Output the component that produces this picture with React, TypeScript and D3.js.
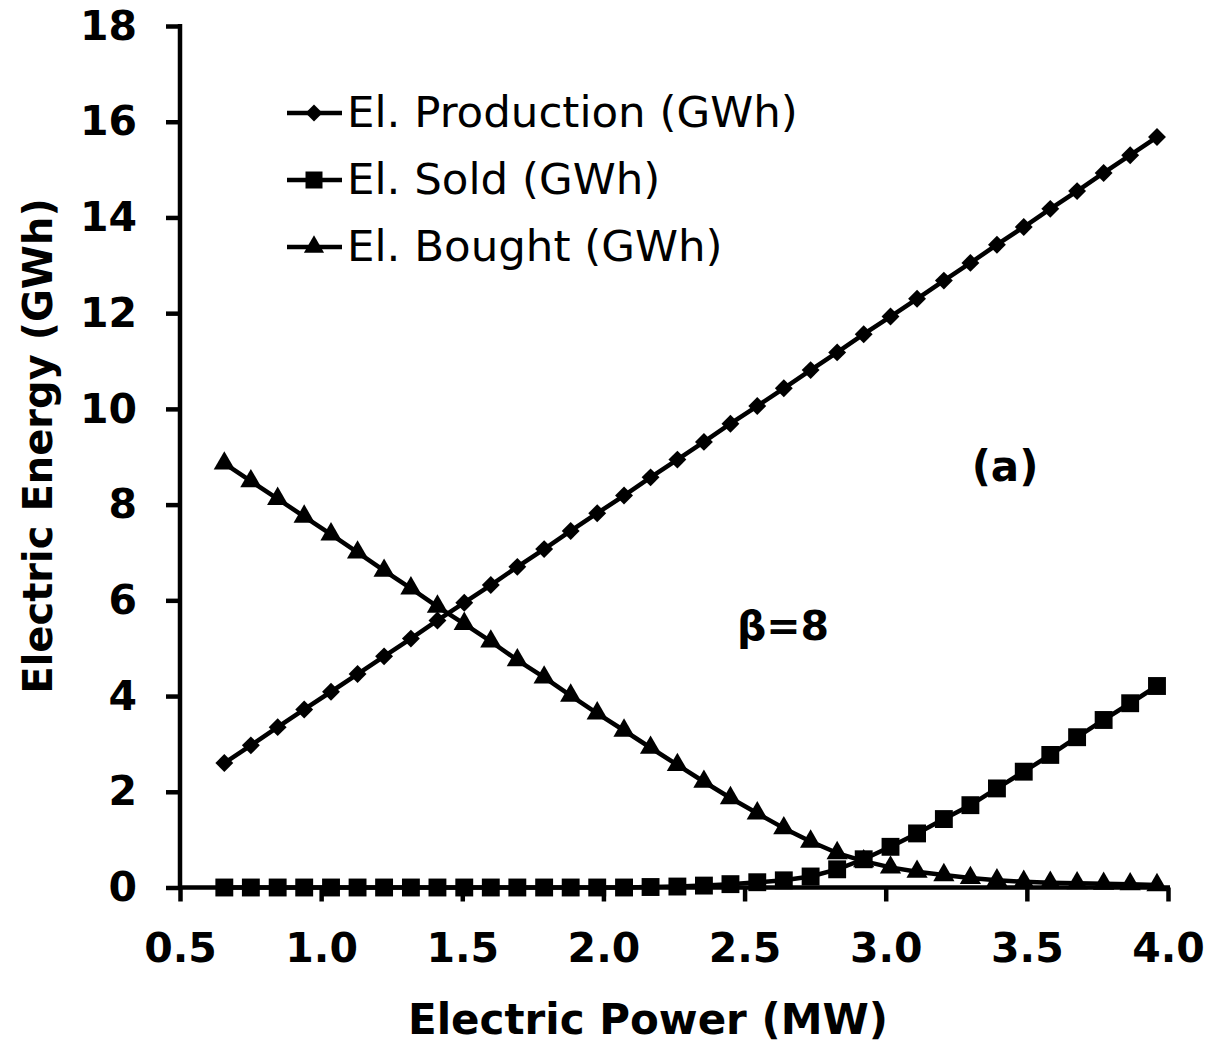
import { useEffect, useRef } from "react";
import * as d3 from "d3";

// electric power (MW) of each simulated unit
const power = [
  0.657, 0.751, 0.846, 0.94, 1.035, 1.129, 1.223, 1.318, 1.412, 1.507, 1.601, 1.695,
  1.79, 1.884, 1.978, 2.073, 2.167, 2.262, 2.356, 2.45, 2.545, 2.639, 2.734, 2.828,
  2.922, 3.017, 3.111, 3.206, 3.3, 3.394, 3.489, 3.583, 3.678, 3.772, 3.866, 3.961,
];

const production = [
  2.6, 2.97, 3.35, 3.72, 4.09, 4.46, 4.83, 5.2, 5.58, 5.95, 6.32, 6.7,
  7.07, 7.45, 7.82, 8.19, 8.57, 8.94, 9.31, 9.69, 10.06, 10.43, 10.81, 11.18,
  11.56, 11.93, 12.3, 12.68, 13.05, 13.43, 13.8, 14.18, 14.55, 14.93, 15.3, 15.68,
];

const sold = [
  0, 0, 0, 0, 0, 0, 0, 0, 0, 0, 0, 0,
  0, 0, 0, 0, 0.01, 0.02, 0.04, 0.07, 0.11, 0.15, 0.23, 0.38,
  0.59, 0.85, 1.13, 1.43, 1.72, 2.07, 2.42, 2.77, 3.14, 3.5, 3.85, 4.21,
];

const bought = [
  8.86, 8.49, 8.12, 7.75, 7.38, 7.0, 6.62, 6.25, 5.87, 5.51, 5.14, 4.75,
  4.39, 4.01, 3.64, 3.28, 2.92, 2.56, 2.21, 1.87, 1.55, 1.24, 0.96, 0.72,
  0.55, 0.42, 0.33, 0.26, 0.2, 0.15, 0.12, 0.1, 0.09, 0.08, 0.07, 0.05,
];

const xTicks = [0.5, 1.0, 1.5, 2.0, 2.5, 3.0, 3.5, 4.0];
const yTicks = [0, 2, 4, 6, 8, 10, 12, 14, 16, 18];

const seriesNames = ["El. Production (GWh)", "El. Sold (GWh)", "El. Bought (GWh)"];

const FONT = "'DejaVu Sans', Verdana, sans-serif";

const x = d3.scaleLinear().domain([0.5, 4]).range([180, 1168]);
const y = d3.scaleLinear().domain([0, 18]).range([887.5, 26]);

// marker shapes: diamond (rotated square), square, triangle
const markers = [
  { path: d3.symbol(d3.symbolSquare, 160)()!, rotate: 45 },
  { path: d3.symbol(d3.symbolSquare, 320)()!, rotate: 0 },
  { path: d3.symbol(d3.symbolTriangle, 195)()!, rotate: 0 },
];

const series = [production, sold, bought];

export default function App() {
  const xAxisRef = useRef<SVGGElement>(null);
  const yAxisRef = useRef<SVGGElement>(null);

  useEffect(() => {
    const xAxis = d3
      .axisBottom(x)
      .tickValues(xTicks)
      .tickFormat(d3.format(".1f"))
      .tickSizeInner(14)
      .tickSizeOuter(0);
    const yAxis = d3
      .axisLeft(y)
      .tickValues(yTicks)
      .tickFormat(d3.format("d"))
      .tickSizeInner(14)
      .tickSizeOuter(0)
      .tickPadding(29);

    const gx = d3.select(xAxisRef.current!).call(xAxis);
    const gy = d3.select(yAxisRef.current!).call(yAxis);

    [gx, gy].forEach((g) => {
      g.attr("font-family", FONT).attr("font-size", 41).attr("font-weight", "bold");
      g.selectAll("path, line").attr("stroke", "#000").attr("stroke-width", 4.5);
      g.selectAll("text").attr("fill", "#000");
    });
    gx.select(".domain").attr("d", `M${x(0.5) - 2},0H${x(4) + 2}`);
    gy.select(".domain").attr("d", `M0,${y(18) - 2}V${y(0) + 2}`);
    gx.selectAll("text").attr("y", 74).attr("dy", "0");
  }, []);

  const line = (vals: number[]) =>
    d3
      .line<number>()
      .x((_, i) => x(power[i]))
      .y((d) => y(d))(vals)!;

  return (
    <svg
      width={1210}
      height={1045}
      style={{ position: "absolute", left: 0, top: 0, background: "#fff" }}
    >
      {series.map((vals, s) => (
        <g key={seriesNames[s]}>
          <path d={line(vals)} fill="none" stroke="#000" strokeWidth={4.5} strokeLinejoin="round" />
          {vals.map((v, i) => (
            <path
              key={i}
              d={markers[s].path}
              transform={`translate(${x(power[i])},${y(v)}) rotate(${markers[s].rotate})`}
              fill="#000"
            />
          ))}
        </g>
      ))}

      <g ref={yAxisRef} transform={`translate(${x(0.5)},0)`} />
      <g ref={xAxisRef} transform={`translate(0,${y(0)})`} />

      {/* legend */}
      {seriesNames.map((name, s) => {
        const cy = 113 + s * 67;
        return (
          <g key={name}>
            <line x1={287} x2={342} y1={cy} y2={cy} stroke="#000" strokeWidth={4.5} />
            <path
              d={markers[s].path}
              transform={`translate(314,${cy}) rotate(${markers[s].rotate}) scale(0.95)`}
              fill="#000"
            />
            <text x={347} y={cy + 14} fontFamily={FONT} fontSize={43.5} fill="#000">
              {name}
            </text>
          </g>
        );
      })}

      <text x={1005} y={481} textAnchor="middle" fontFamily={FONT} fontSize={42} fontWeight="bold">
        (a)
      </text>
      <text x={783} y={640} textAnchor="middle" fontFamily={FONT} fontSize={41} fontWeight="bold">
        β=8
      </text>

      <text x={648} y={1034} textAnchor="middle" fontFamily={FONT} fontSize={42} fontWeight="bold">
        Electric Power (MW)
      </text>
      <text
        transform="translate(52,446) rotate(-90)"
        textAnchor="middle"
        fontFamily={FONT}
        fontSize={40}
        fontWeight="bold"
      >
        Electric Energy (GWh)
      </text>
    </svg>
  );
}
